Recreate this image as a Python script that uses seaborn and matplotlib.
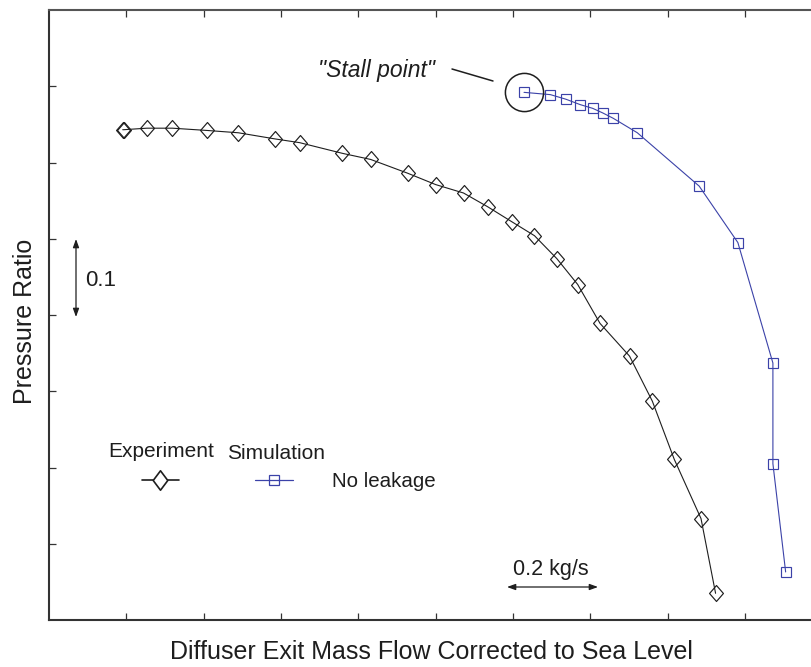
import numpy as np
import pandas as pd
import seaborn as sns
import matplotlib.pyplot as plt
from matplotlib.path import Path
from matplotlib.lines import Line2D

# Measured compressor characteristic (mass flow in kg/s, total pressure ratio)
exp_flow = [0.992, 0.994, 1.045, 1.101, 1.178, 1.246, 1.326, 1.381, 1.475, 1.537,
            1.618, 1.680, 1.741, 1.794, 1.848, 1.897, 1.946, 1.992, 2.041, 2.106,
            2.156, 2.204, 2.263, 2.295]
exp_pr = [1.943, 1.943, 1.945, 1.945, 1.942, 1.939, 1.931, 1.926, 1.912, 1.904,
          1.886, 1.871, 1.860, 1.842, 1.822, 1.804, 1.774, 1.740, 1.689, 1.646,
          1.587, 1.511, 1.433, 1.335]

# Simulated characteristic without tip leakage
sim_flow = [1.874, 1.932, 1.966, 1.997, 2.025, 2.047, 2.070, 2.123, 2.259, 2.344,
            2.421, 2.421, 2.449]
sim_pr = [1.992, 1.989, 1.983, 1.976, 1.971, 1.965, 1.958, 1.939, 1.869, 1.795,
          1.637, 1.505, 1.363]

x_ticks = [1.0 + 0.17 * k for k in range(10)]
y_ticks = [1.4, 1.5, 1.6, 1.7, 1.8, 1.9, 2.0]

exp_df = pd.DataFrame({"flow": exp_flow, "pr": exp_pr})
sim_df = pd.DataFrame({"flow": sim_flow, "pr": sim_pr})

sns.set_theme(style="white")
plt.rcParams["font.family"] = ["Liberation Sans", "DejaVu Sans"]

BLACK = "#1e1e1e"
BLUE = "#3b42a8"
SPINE = "#333333"

W, H = 812, 667
fig = plt.figure(figsize=(W / 100, H / 100), dpi=100)
ax_l, ax_r, ax_t, ax_b = 49, 830, 10, 620
ax = fig.add_axes([ax_l / W, 1 - ax_b / H, (ax_r - ax_l) / W, (ax_b - ax_t) / H])


def ax_xy(px, py):
    """Pixel position in the figure -> axes fraction."""
    return (px - ax_l) / (ax_r - ax_l), (ax_b - py) / (ax_b - ax_t)


# Slightly tall open diamond
diamond = Path([(0, 1), (0.87, 0), (0, -1), (-0.87, 0), (0, 1)],
               [Path.MOVETO, Path.LINETO, Path.LINETO, Path.LINETO, Path.CLOSEPOLY])
diamond_leg = Path([(0, 1), (0.75, 0), (0, -1), (-0.75, 0), (0, 1)],
                   [Path.MOVETO, Path.LINETO, Path.LINETO, Path.LINETO, Path.CLOSEPOLY])

sns.lineplot(data=exp_df, x="flow", y="pr", sort=False, estimator=None, ax=ax,
             color=BLACK, lw=0.8, marker=diamond, markersize=11.5,
             markerfacecolor="none", markeredgecolor=BLACK, markeredgewidth=0.85)
sns.lineplot(data=sim_df, x="flow", y="pr", sort=False, estimator=None, ax=ax,
             color=BLUE, lw=0.8, marker="s", markersize=7.3,
             markerfacecolor="none", markeredgecolor=BLUE, markeredgewidth=0.85)

# Circle around the stall point
ax.plot(sim_flow[0], sim_pr[0], marker="o", markersize=27.5, markerfacecolor="none",
        markeredgecolor=BLACK, markeredgewidth=1.1, linestyle="none")

ax.set_xlim(0.83, 0.83 + (ax_r - ax_l) / 455.0)
ax.set_ylim(1.3, 2.1)
ax.set_xticks(x_ticks)
ax.set_yticks(y_ticks)
ax.tick_params(axis="both", which="both", direction="in", length=5, width=0.9,
               color=SPINE, top=True, bottom=True, left=True, right=False,
               labelbottom=False, labelleft=False, labeltop=False)
for side in ["left", "bottom", "right"]:
    ax.spines[side].set_color(SPINE)
    ax.spines[side].set_linewidth(1.5)
ax.spines["top"].set_color("#555555")
ax.spines["top"].set_linewidth(1.5)
ax.grid(False)

ax.set_xlabel("Diffuser Exit Mass Flow Corrected to Sea Level", fontsize=18,
              color=BLACK, va="baseline")
ax.xaxis.set_label_coords(*ax_xy(431, 659))
ax.set_ylabel("Pressure Ratio", fontsize=18, color=BLACK, va="baseline")
ax.yaxis.set_label_coords(*ax_xy(32, 321.5))

# Stall point annotation
ax.text(*ax_xy(376.5, 77), '"Stall point"', transform=ax.transAxes, fontsize=16.5,
        style="italic", color=BLACK, ha="center", va="baseline")
lx0, ly0 = ax_xy(452, 69)
lx1, ly1 = ax_xy(493, 81)
ax.add_line(Line2D([lx0, lx1], [ly0, ly1], transform=ax.transAxes, color=BLACK,
                   lw=1.1, clip_on=False))

# Scale arrows
arrow_kw = dict(arrowstyle="<|-|>,head_length=0.55,head_width=0.2", color=BLACK,
                lw=0.9, shrinkA=0, shrinkB=0, mutation_scale=9)
ax.annotate("", xy=ax_xy(76, 239), xytext=ax_xy(76, 317), xycoords="axes fraction",
            textcoords="axes fraction", arrowprops=arrow_kw)
ax.text(*ax_xy(85, 286), "0.1", transform=ax.transAxes, fontsize=16, color=BLACK,
        ha="left", va="baseline")
ax.annotate("", xy=ax_xy(507, 587), xytext=ax_xy(598, 587), xycoords="axes fraction",
            textcoords="axes fraction", arrowprops=arrow_kw)
ax.text(*ax_xy(551, 575), "0.2 kg/s", transform=ax.transAxes, fontsize=15.5,
        color=BLACK, ha="center", va="baseline")

# Legend
ax.text(*ax_xy(108, 457), "Experiment", transform=ax.transAxes, fontsize=15,
        color=BLACK, ha="left", va="baseline")
ax.text(*ax_xy(227, 459), "Simulation", transform=ax.transAxes, fontsize=15,
        color=BLACK, ha="left", va="baseline")
ax.text(*ax_xy(332, 487), "No leakage", transform=ax.transAxes, fontsize=14.8,
        color=BLACK, ha="left", va="baseline")

ex0, ey = ax_xy(142, 480)
ex1, _ = ax_xy(179, 480)
exm, _ = ax_xy(160, 480)
ax.add_line(Line2D([ex0, ex1], [ey, ey], transform=ax.transAxes, color=BLACK,
                   lw=1.2, clip_on=False))
ax.add_line(Line2D([exm], [ey], transform=ax.transAxes, marker=diamond_leg,
                   markersize=14, markerfacecolor="white", markeredgecolor=BLACK,
                   markeredgewidth=1.2, linestyle="none", clip_on=False))

sx0, sy = ax_xy(255, 480)
sx1, _ = ax_xy(293, 480)
sxm, _ = ax_xy(274, 480)
ax.add_line(Line2D([sx0, sx1], [sy, sy], transform=ax.transAxes, color=BLUE,
                   lw=0.9, clip_on=False))
ax.add_line(Line2D([sxm], [sy], transform=ax.transAxes, marker="s", markersize=7.3,
                   markerfacecolor="none", markeredgecolor=BLUE, markeredgewidth=0.9,
                   linestyle="none", clip_on=False))

fig.savefig("out.png", dpi=100)
